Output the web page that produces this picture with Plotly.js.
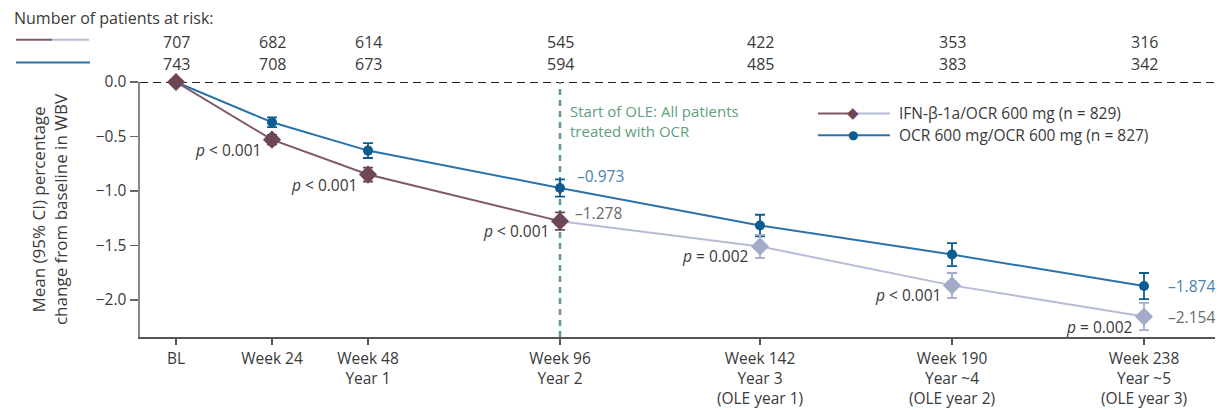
<!DOCTYPE html>
<html>
<head>
<meta charset="utf-8">
<script src="https://cdn.plot.ly/plotly-3.0.1.min.js"></script>
<style>
  html, body { margin: 0; padding: 0; background: #fff; }
  #chart { width: 1223px; height: 410px; }
</style>
</head>
<body>
<div id="chart"></div>
<script>
// ---------------- data ----------------
const visits = ['BL', 'Week 24', 'Week 48', 'Week 96', 'Week 142', 'Week 190', 'Week 238'];
const tickLabels = ['BL', 'Week 24', 'Week 48<br>Year 1', 'Week 96<br>Year 2',
  'Week 142<br>Year 3<br>(OLE year 1)', 'Week 190<br>Year ~4<br>(OLE year 2)', 'Week 238<br>Year ~5<br>(OLE year 3)'];
const visitPos = [0, 24, 48, 96, 146, 194, 242];
const ifnMean = [0, -0.53, -0.85, -1.278, -1.51, -1.868, -2.154];
const ifnCI = [0, 0.045, 0.064, 0.08, 0.105, 0.114, 0.125];
const ocrMean = [0, -0.37, -0.63, -0.973, -1.318, -1.585, -1.874];
const ocrCI = [0, 0.045, 0.068, 0.079, 0.099, 0.106, 0.12];
const atRiskIFN = [707, 682, 614, 545, 422, 353, 316];
const atRiskOCR = [743, 708, 673, 594, 485, 383, 342];
const pValues = ['', '< 0.001', '< 0.001', '< 0.001', '= 0.002', '< 0.001', '= 0.002'];
const seriesNames = ['IFN-β-1a/OCR 600 mg (n = 829)', 'OCR 600 mg/OCR 600 mg (n = 827)'];
const oleStart = 3; // index of Week 96

// ---------------- style ----------------
const FONT = '"Open Sans", "Noto Sans", sans-serif';
const MAROON = '#6e4655';
const MAROON_LINE = '#7d5a66';
const LAV = '#a3abc9';
const LAV_LINE = '#b6bcd6';
const BLUE = '#0d5c8f';
const BLUE_LINE = '#2a72aa';
const GREEN = '#5e9f7c';
const TXT = '#3a3a3a';

const W = 1223, H = 410;
const M = {l: 140, r: 8, t: 81.5, b: 72.5};
const pw = W - M.l - M.r, ph = H - M.t - M.b;
const px = x => (x - M.l) / pw;
const py = y => (H - M.b - y) / ph;

const sl = (a, s, e) => a.slice(s, e);

const traces = [];
traces.push({
  x: visitPos, y: ocrMean, type: 'scatter', mode: 'lines+markers', name: seriesNames[1],
  line: {color: BLUE_LINE, width: 2},
  marker: {symbol: 'circle', size: 10, color: BLUE},
  error_y: {type: 'data', array: ocrCI, visible: true, color: BLUE, thickness: 1.8, width: 5},
  cliponaxis: false, showlegend: false
});
traces.push({
  x: sl(visitPos, oleStart), y: sl(ifnMean, oleStart), type: 'scatter', mode: 'lines',
  line: {color: LAV_LINE, width: 2}, showlegend: false, hoverinfo: 'skip', cliponaxis: false
});
traces.push({
  x: sl(visitPos, oleStart + 1), y: sl(ifnMean, oleStart + 1), type: 'scatter', mode: 'markers',
  marker: {symbol: 'diamond', size: 14, color: LAV},
  error_y: {type: 'data', array: sl(ifnCI, oleStart + 1), visible: true, color: LAV, thickness: 1.8, width: 5},
  showlegend: false, cliponaxis: false
});
traces.push({
  x: sl(visitPos, 0, oleStart + 1), y: sl(ifnMean, 0, oleStart + 1), type: 'scatter', mode: 'lines+markers',
  name: seriesNames[0],
  line: {color: MAROON_LINE, width: 2},
  marker: {symbol: 'diamond', size: 14, color: MAROON},
  error_y: {type: 'data', array: sl(ifnCI, 0, oleStart + 1), visible: true, color: MAROON, thickness: 1.8, width: 5},
  cliponaxis: false, showlegend: false
});

const annotations = [];
const shapes = [];

annotations.push({xref: 'paper', yref: 'paper', x: px(12), y: py(17), xanchor: 'left', yanchor: 'middle',
  text: 'Number of patients at risk:', showarrow: false, font: {family: FONT, size: 16, color: TXT}});
shapes.push({type: 'line', xref: 'paper', yref: 'paper', x0: px(16), x1: px(52), y0: py(39), y1: py(39), line: {color: MAROON_LINE, width: 2}});
shapes.push({type: 'line', xref: 'paper', yref: 'paper', x0: px(52), x1: px(89), y0: py(39), y1: py(39), line: {color: LAV_LINE, width: 2}});
shapes.push({type: 'line', xref: 'paper', yref: 'paper', x0: px(16), x1: px(90), y0: py(62), y1: py(62), line: {color: BLUE_LINE, width: 2}});
visitPos.forEach((v, i) => {
  annotations.push({xref: 'x', yref: 'paper', x: v, y: py(41), xanchor: 'center', yanchor: 'middle',
    text: String(atRiskIFN[i]), showarrow: false, font: {family: FONT, size: 16, color: TXT}});
  annotations.push({xref: 'x', yref: 'paper', x: v, y: py(63), xanchor: 'center', yanchor: 'middle',
    text: String(atRiskOCR[i]), showarrow: false, font: {family: FONT, size: 16, color: TXT}});
});

shapes.push({type: 'line', xref: 'paper', yref: 'y', x0: 0, x1: 1, y0: 0, y1: 0, layer: 'below',
  line: {color: '#222', width: 2, dash: '8px,5px'}});
shapes.push({type: 'line', xref: 'x', yref: 'paper', x0: visitPos[oleStart], x1: visitPos[oleStart], y0: 0, y1: 1, layer: 'below',
  line: {color: GREEN, width: 2.5, dash: '6px,5px'}});
annotations.push({xref: 'x', yref: 'paper', x: visitPos[oleStart], y: py(99), xanchor: 'left', yanchor: 'top', xshift: 8,
  text: 'Start of OLE: All patients<br>treated with OCR', align: 'left', showarrow: false,
  font: {family: FONT, size: 15, color: GREEN}});

const legY = [113, 135];
shapes.push({type: 'line', xref: 'paper', yref: 'paper', x0: px(818), x1: px(853), y0: py(legY[0]), y1: py(legY[0]), line: {color: MAROON_LINE, width: 2}});
shapes.push({type: 'line', xref: 'paper', yref: 'paper', x0: px(853), x1: px(890), y0: py(legY[0]), y1: py(legY[0]), line: {color: LAV_LINE, width: 2}});
shapes.push({type: 'line', xref: 'paper', yref: 'paper', x0: px(818), x1: px(890), y0: py(legY[1]), y1: py(legY[1]), line: {color: BLUE_LINE, width: 2}});
annotations.push({xref: 'paper', yref: 'paper', x: px(853), y: py(legY[0]), xanchor: 'center', yanchor: 'middle',
  text: '◆', showarrow: false, font: {family: 'DejaVu Sans', size: 15, color: MAROON}});
annotations.push({xref: 'paper', yref: 'paper', x: px(853), y: py(legY[1]), xanchor: 'center', yanchor: 'middle',
  text: '●', showarrow: false, font: {family: 'DejaVu Sans', size: 12, color: BLUE}});
seriesNames.forEach((n, i) => {
  annotations.push({xref: 'paper', yref: 'paper', x: px(897), y: py(legY[i]), xanchor: 'left', yanchor: 'middle',
    text: n, showarrow: false, font: {family: FONT, size: 15.5, color: TXT}});
});

visitPos.forEach((v, i) => {
  if (!pValues[i]) return;
  annotations.push({xref: 'x', yref: 'y', x: v, y: ifnMean[i], xanchor: 'right', yanchor: 'middle',
    xshift: -9, yshift: -10, text: '<i>p</i> ' + pValues[i].replace('<', '&lt;'), showarrow: false,
    font: {family: FONT, size: 15.5, color: TXT}});
});

const fmt = v => '\u2013' + Math.abs(v).toFixed(3);
const valueLabels = [
  {i: oleStart, y: ocrMean[oleStart], c: '#4b7fb0', dx: 15, dy: 12},
  {i: oleStart, y: ifnMean[oleStart], c: '#6b6b6b', dx: 13, dy: 8},
  {i: 6, y: ocrMean[6], c: '#4b7fb0', dx: 22, dy: 0},
  {i: 6, y: ifnMean[6], c: '#6b6b6b', dx: 22, dy: 0}
];
valueLabels.forEach(o => {
  annotations.push({xref: 'x', yref: 'y', x: visitPos[o.i], y: o.y, xanchor: 'left', yanchor: 'middle',
    xshift: o.dx, yshift: o.dy, text: fmt(o.y), showarrow: false, font: {family: FONT, size: 15.5, color: o.c}});
});

const layout = {
  width: W, height: H,
  margin: {l: M.l, r: M.r, t: M.t, b: M.b, pad: 0},
  paper_bgcolor: '#fff', plot_bgcolor: '#fff',
  font: {family: FONT, size: 15, color: TXT},
  showlegend: false,
  xaxis: {
    range: [-9, 259.75], tickmode: 'array', tickvals: visitPos, ticktext: tickLabels,
    showline: true, linecolor: '#555', linewidth: 2, ticks: 'outside', ticklen: 6, tickwidth: 1.5, tickcolor: '#555',
    showgrid: false, zeroline: false, tickfont: {family: FONT, size: 15.5, color: TXT}, automargin: false
  },
  yaxis: {
    range: [-2.342, 0], tickvals: [0, -0.5, -1, -1.5, -2], tickformat: '.1f',
    showline: true, linecolor: '#888', linewidth: 2.5, ticks: 'outside', ticklen: 8, tickwidth: 1.5, tickcolor: '#666',
    showgrid: false, zeroline: false, tickfont: {family: FONT, size: 15.5, color: TXT}, automargin: false,
    title: {text: 'Mean (95% CI) percentage<br>change from baseline in WBV', standoff: 24,
      font: {family: FONT, size: 17, color: TXT}}
  },
  shapes: shapes, annotations: annotations
};

Plotly.newPlot('chart', traces, layout, {displayModeBar: false, staticPlot: true});
</script>
</body>
</html>
